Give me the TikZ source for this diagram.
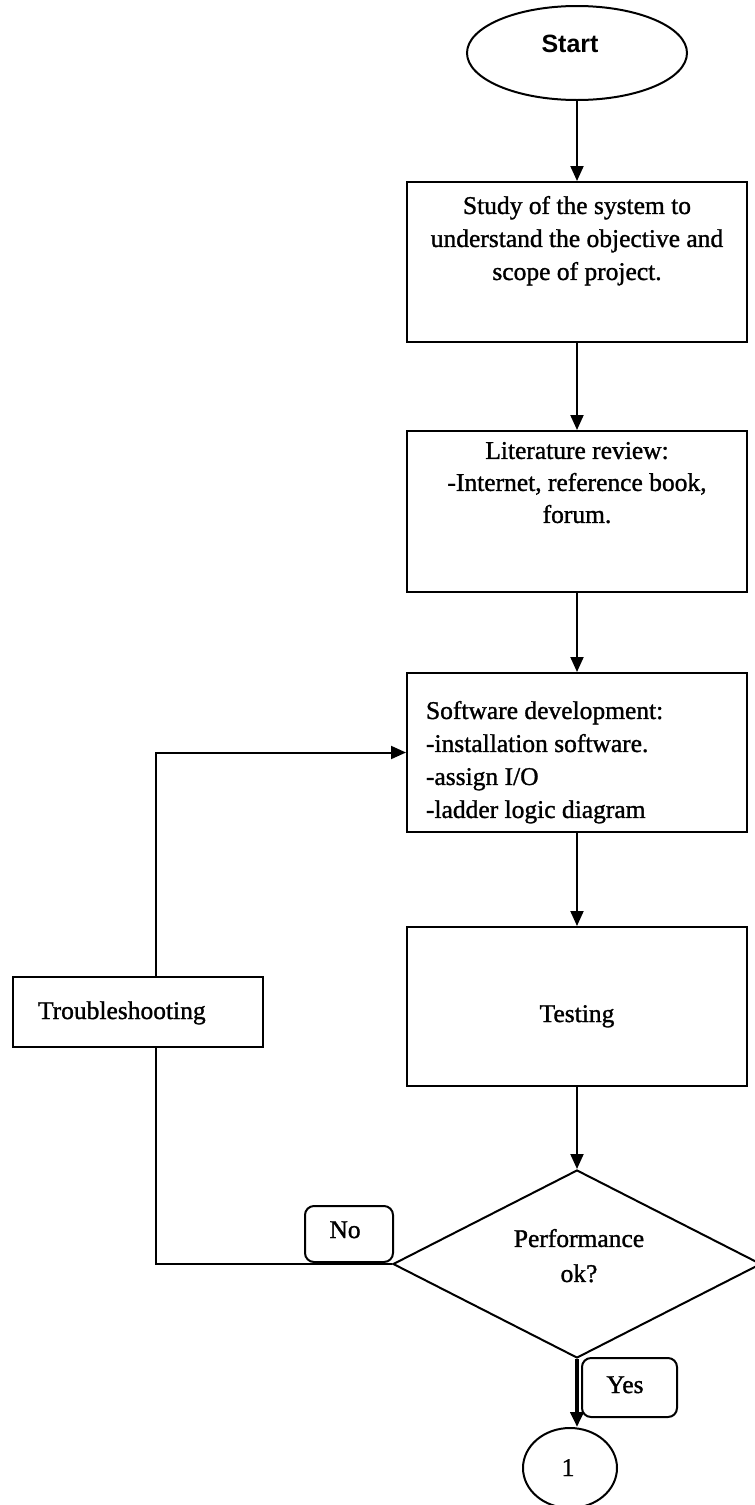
\documentclass[tikz,border=0pt]{standalone}
\usepackage{fontspec}
\setmainfont{Liberation Serif}[FakeBold=1.2]
\newfontfamily\headfont{Liberation Sans}
\usetikzlibrary{shapes.geometric,arrows.meta}

\begin{document}
\begin{tikzpicture}[x=1pt,y=-1pt,
  line width=2pt,
  every node/.style={inner sep=0pt},
  flow/.style={draw, rectangle, line width=2pt},
  txt/.style={font=\fontsize{25.5}{33}\selectfont},
  arr/.style={-{Triangle[length=15pt,width=13pt]}},
  tag/.style={draw, rounded corners=9pt, line width=2pt}]
\useasboundingbox (0,0) rectangle (755,1505);

% terminator
\node[draw, ellipse, minimum width=220pt, minimum height=94pt] (start) at (577,53) {};
\node[font=\headfont\bfseries\fontsize{25}{30}\selectfont, anchor=base] (startT) at (570,52) {Start};

% process steps
\node[flow, minimum width=340pt, minimum height=160pt] (study) at (577,262) {};
\node[txt, align=center, anchor=north] (studyT) at (577,195)
  {Study of the system to\\understand the objective and\\scope of project.};

\node[flow, minimum width=340pt, minimum height=161pt] (lit) at (577,511.5) {};
\node[font=\fontsize{25.5}{32}\selectfont, align=center, anchor=north] (litT) at (577,441)
  {Literature review:\\-Internet, reference book,\\forum.};

\node[flow, minimum width=340pt, minimum height=159pt] (soft) at (577,752.5) {};
\node[txt, align=left, anchor=north west] (softT) at (425,700)
  {Software development:\\-installation software.\\-assign I/O\\-ladder logic diagram};

\node[flow, minimum width=340pt, minimum height=159pt] (test) at (577,1006.5) {};
\node[txt, anchor=base] (testT) at (577,1022) {Testing};

\node[flow, minimum width=250pt, minimum height=70pt] (trouble) at (138,1012) {};
\node[txt, anchor=base west] (troubleT) at (37,1019) {Troubleshooting};

% decision
\node[draw, diamond, shape aspect=2, minimum width=368pt, minimum height=188pt] (perf) at (577,1264) {};
\node[font=\fontsize{25.5}{35}\selectfont, align=center, anchor=north] (perfT) at (579,1228)
  {Performance\\ok?};

% branch labels
\node[tag, minimum width=88pt, minimum height=56pt] (no) at (349,1234) {};
\node[txt, anchor=base] (noT) at (345,1238) {No};
\node[tag, minimum width=95pt, minimum height=59pt] (yes) at (629.5,1387.5) {};
\node[txt, anchor=base] (yesT) at (625,1393) {Yes};

% off-page connector
\node[draw, ellipse, minimum width=94pt, minimum height=80pt] (one) at (570,1468) {};
\node[txt, anchor=base] (oneT) at (568,1476) {1};

% connectors
\draw[arr] (start) -- (study);
\draw[arr] (study) -- (lit);
\draw[arr] (lit) -- (soft);
\draw[arr] (soft) -- (test);
\draw[arr] (test) -- (perf);
\draw[arr, line width=4pt] (perf.south) -- (perf.south |- one.north);
\draw (perf.west) -| ([xshift=18pt]trouble.south);
\draw[arr] ([xshift=18pt]trouble.north) |- (soft.west);
\end{tikzpicture}
\end{document}
